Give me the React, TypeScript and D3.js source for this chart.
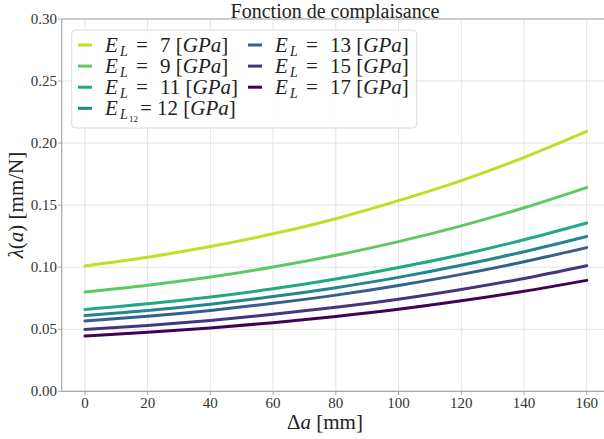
import React from "react";
import * as d3 from "d3";

const deltaA = [0, 20, 40, 60, 80, 100, 120, 140, 160];
const moduli = [7, 9, 11, 12, 13, 15, 17];
const lambda7 = [0.101, 0.108, 0.1166, 0.1269, 0.1391, 0.1536, 0.1697, 0.1884, 0.2094];
const lambda9 = [0.080, 0.0855, 0.0921, 0.1001, 0.1096, 0.1206, 0.1333, 0.1479, 0.1642];
const lambda11 = [0.066, 0.0705, 0.076, 0.0826, 0.0905, 0.0998, 0.1101, 0.1221, 0.1356];
const lambda12 = [0.061, 0.0651, 0.0702, 0.0763, 0.0835, 0.0918, 0.1015, 0.1125, 0.1248];
const lambda13 = [0.0567, 0.0605, 0.0652, 0.0709, 0.0775, 0.0853, 0.0942, 0.1044, 0.1158];
const lambda15 = [0.0498, 0.053, 0.0571, 0.062, 0.0677, 0.0742, 0.082, 0.0909, 0.1012];
const lambda17 = [0.0446, 0.0475, 0.051, 0.0553, 0.0603, 0.0661, 0.0729, 0.0806, 0.0894];
const seriesValues = [lambda7, lambda9, lambda11, lambda12, lambda13, lambda15, lambda17];
const colorStops = [0.9, 0.75, 0.6, 0.45, 0.3, 0.15, 0.0];
const xTicks = [0, 20, 40, 60, 80, 100, 120, 140, 160];
const yTicks = [0.0, 0.05, 0.1, 0.15, 0.2, 0.25, 0.3];

const W = 604;
const H = 439;
const FONT = '"Liberation Serif", "DejaVu Serif", serif';
const fs = (size: number) => ({ fontFamily: FONT, fontSize: size });

export default function App() {
  const x = d3.scaleLinear().domain([-7.4, 168]).range([61.7, 611.8]);
  const y = d3.scaleLinear().domain([0, 0.3]).range([391.3, 19]);
  const line = d3
    .line<number>()
    .x((_, i) => x(deltaA[i]))
    .y((d) => y(d))
    .curve(d3.curveMonotoneX);

  const legendRows = moduli.map((m, i) => {
    const col = i < 4 ? 0 : 1;
    const row = i < 4 ? i : i - 4;
    return { m, i, col, row };
  });

  const renderLabel = (m: number, tx: number, cy: number) => {
    const base = cy + 7;
    if (m === 12) {
      return (
        <text x={tx} y={base} style={fs(21)} fill="#222">
          <tspan fontStyle="italic">E</tspan>
          <tspan x={tx + 15} dy={4} fontStyle="italic" fontSize={14}>L</tspan>
          <tspan x={tx + 24} dy={3} fontSize={9}>12</tspan>
          <tspan x={tx + 35} dy={-7}>= 12 [</tspan>
          <tspan fontStyle="italic">GPa</tspan>
          <tspan>]</tspan>
        </text>
      );
    }
    return (
      <text x={tx} y={base} style={fs(21)} fill="#222">
        <tspan fontStyle="italic">E</tspan>
        <tspan x={tx + 15} dy={4} fontStyle="italic" fontSize={14}>L</tspan>
        <tspan x={tx + 31} dy={-4}>=</tspan>
        <tspan x={tx + 55}>{m} [</tspan>
        <tspan fontStyle="italic">GPa</tspan>
        <tspan>]</tspan>
      </text>
    );
  };

  return (
    <svg
      width={W}
      height={H}
      style={{ position: "absolute", left: 0, top: 0, background: "#fff", fontFamily: FONT }}
    >
      <g>
        {xTicks.map((t) => (
          <line key={"gx" + t} x1={x(t)} x2={x(t)} y1={19} y2={391.3} stroke="#e3e3e3" strokeWidth={1} />
        ))}
        {yTicks.map((t) => (
          <line key={"gy" + t} x1={61.7} x2={W} y1={y(t)} y2={y(t)} stroke="#e3e3e3" strokeWidth={1} />
        ))}
      </g>
      <line x1={61.7} x2={61.7} y1={19} y2={391.3} stroke="#a8a8a8" strokeWidth={1.2} />
      <line x1={61.7} x2={W} y1={391.3} y2={391.3} stroke="#a8a8a8" strokeWidth={1.2} />
      <line x1={61.7} x2={W} y1={19} y2={19} stroke="#a8a8a8" strokeWidth={1.2} />
      {xTicks.map((t) => (
        <g key={"tx" + t}>
          <line x1={x(t)} x2={x(t)} y1={391.3} y2={395} stroke="#a8a8a8" />
          <text x={x(t)} y={408} textAnchor="middle" style={fs(15)} fill="#333">
            {t}
          </text>
        </g>
      ))}
      {yTicks.map((t) => (
        <g key={"ty" + t}>
          <line x1={58} x2={61.7} y1={y(t)} y2={y(t)} stroke="#a8a8a8" />
          <text x={57} y={y(t) + 5} textAnchor="end" style={fs(15)} fill="#333">
            {t.toFixed(2)}
          </text>
        </g>
      ))}
      {seriesValues.map((vals, i) => (
        <path
          key={"s" + i}
          d={line(vals) || ""}
          fill="none"
          stroke={d3.interpolateViridis(colorStops[i])}
          strokeWidth={3}
          strokeLinecap="round"
        />
      ))}
      <text x={335} y={17.5} textAnchor="middle" style={fs(20)} fill="#222">
        Fonction de complaisance
      </text>
      <text x={325} y={429} textAnchor="middle" style={fs(21)} fill="#222">
        Δ<tspan fontStyle="italic">a</tspan> [mm]
      </text>
      <text
        transform={`translate(23,${205}) rotate(-90)`}
        textAnchor="middle"
        style={fs(21)}
        fill="#222"
      >
        <tspan fontStyle="italic">λ</tspan>(<tspan fontStyle="italic">a</tspan>) [mm/N]
      </text>
      <rect x={71.7} y={30} width={345} height={98} rx={4} fill="#fff" fillOpacity={0.85} stroke="#dcdcdc" />
      {legendRows.map(({ m, i, col, row }) => {
        const hx = col === 0 ? 78 : 248;
        const tx = col === 0 ? 105 : 275;
        const cy = 45 + row * 21.1;
        return (
          <g key={"lg" + m}>
            <line x1={hx} x2={hx + 14} y1={cy} y2={cy} stroke={d3.interpolateViridis(colorStops[i])} strokeWidth={3} />
            {renderLabel(m, tx, cy)}
          </g>
        );
      })}
    </svg>
  );
}
